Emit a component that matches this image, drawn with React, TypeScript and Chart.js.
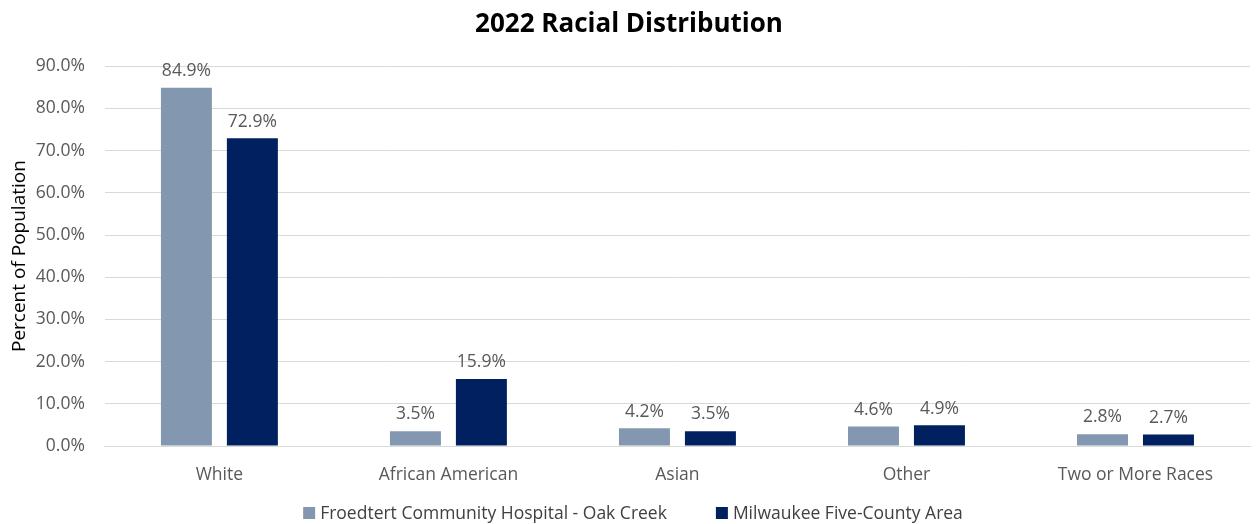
import React, { useEffect, useRef } from "react";
import { Chart, registerables } from "chart.js";

Chart.register(...registerables);

const categories = ["White", "African American", "Asian", "Other", "Two or More Races"];
const hospitalValues = [84.9, 3.5, 4.2, 4.6, 2.8];
const countyValues = [72.9, 15.9, 3.5, 4.9, 2.7];
const seriesNames = ["Froedtert Community Hospital - Oak Creek", "Milwaukee Five-County Area"];
const seriesColors = ["#8497B0", "#002060"];
const chartTitle = "2022 Racial Distribution";
const yAxisTitle = "Percent of Population";

const FONT = "'Open Sans', 'Noto Sans', sans-serif";
const TEXT_SIZE = 17.5;

const dataLabelPlugin = {
  id: "dataLabels",
  afterDatasetsDraw(chart: any) {
    const ctx = chart.ctx;
    ctx.save();
    ctx.fillStyle = "#595959";
    ctx.font = `${TEXT_SIZE}px ${FONT}`;
    ctx.textAlign = "center";
    ctx.textBaseline = "bottom";
    chart.data.datasets.forEach((ds: any, i: number) => {
      const meta = chart.getDatasetMeta(i);
      meta.data.forEach((bar: any, j: number) => {
        ctx.fillText(ds.data[j].toFixed(1) + "%", bar.x, bar.y - 8);
      });
    });
    ctx.restore();
  },
};

const bottomLegendPlugin = {
  id: "bottomLegend",
  afterDraw(chart: any) {
    const ctx = chart.ctx;
    ctx.save();
    ctx.font = `${TEXT_SIZE}px ${FONT}`;
    ctx.textBaseline = "middle";
    ctx.textAlign = "left";
    const box = 12;
    const boxGap = 5;
    const itemGap = 49;
    const items = chart.data.datasets.map((ds: any) => ({
      text: ds.label,
      color: ds.backgroundColor,
      w: ctx.measureText(ds.label).width,
    }));
    const total =
      items.reduce((s: number, it: any) => s + box + boxGap + it.w, 0) + itemGap * (items.length - 1);
    let x = chart.width / 2 - total / 2 + 5;
    const y = chart.height - 11;
    items.forEach((it: any) => {
      ctx.fillStyle = it.color;
      ctx.fillRect(x, y - box / 2, box, box);
      x += box + boxGap;
      ctx.fillStyle = "#404040";
      ctx.fillText(it.text, x, y + 1);
      x += it.w + itemGap;
    });
    ctx.restore();
  },
};

export default function App() {
  const ref = useRef<HTMLCanvasElement | null>(null);
  useEffect(() => {
    if (!ref.current) return;
    const chart = new Chart(ref.current, {
      type: "bar",
      data: {
        labels: categories,
        datasets: [
          { label: seriesNames[0], data: hospitalValues, backgroundColor: seriesColors[0] },
          { label: seriesNames[1], data: countyValues, backgroundColor: seriesColors[1] },
        ],
      },
      options: {
        animation: false,
        responsive: true,
        maintainAspectRatio: false,
        layout: { padding: { left: 8, right: 6, top: 9, bottom: 19 } },
        datasets: { bar: { categoryPercentage: 0.576, barPercentage: 0.773 } },
        plugins: {
          title: {
            display: true,
            text: chartTitle,
            color: "#000000",
            font: { family: FONT, size: 26, weight: "bold" },
            padding: { top: 0, bottom: 26 },
          },
          legend: { display: false },
          tooltip: { enabled: false },
        },
        scales: {
          x: {
            grid: { display: false, drawTicks: false },
            border: { color: "#D9D9D9" },
            ticks: { color: "#595959", font: { family: FONT, size: TEXT_SIZE }, padding: 19 },
          },
          y: {
            min: 0,
            max: 90,
            ticks: {
              stepSize: 10,
              color: "#595959",
              font: { family: FONT, size: TEXT_SIZE },
              padding: 20,
              callback: (v: any) => Number(v).toFixed(1) + "%",
            },
            grid: { color: "#D9D9D9", drawTicks: false },
            border: { display: false },
            title: {
              display: true,
              text: yAxisTitle,
              color: "#000000",
              font: { family: FONT, size: 19 },
              padding: { top: 0, bottom: -15 },
            },
          },
        },
      },
      plugins: [dataLabelPlugin, bottomLegendPlugin],
    });
    return () => chart.destroy();
  }, []);
  return (
    <div style={{ position: "fixed", left: 0, top: 0, width: 1256, height: 524, background: "#fff" }}>
      <canvas ref={ref} />
    </div>
  );
}
